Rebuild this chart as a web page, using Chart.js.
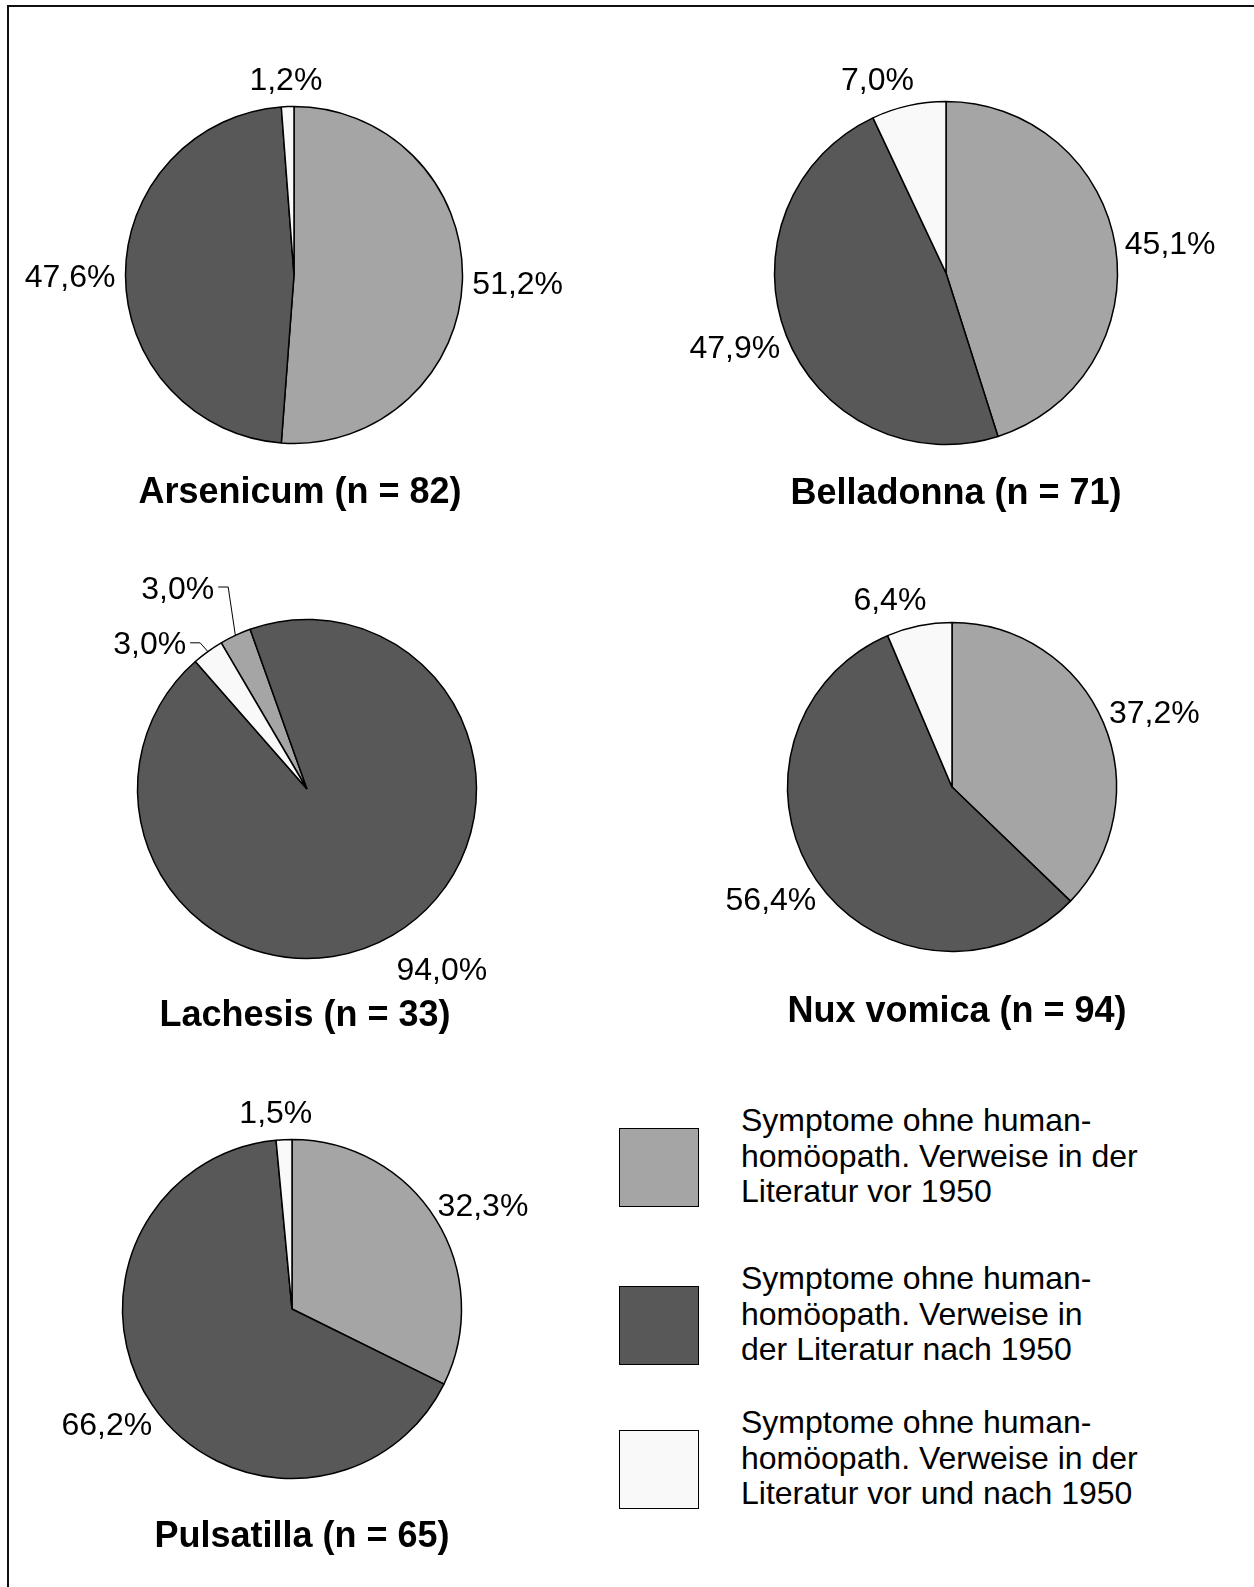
<!DOCTYPE html>
<html>
<head>
<meta charset="utf-8">
<script src="https://cdn.jsdelivr.net/npm/chart.js@4.4.1/dist/chart.umd.min.js"></script>
<style>
  html, body { margin: 0; padding: 0; background: #fff; }
  body { position: relative; width: 1254px; height: 1587px; overflow: hidden; font-family: "Liberation Sans", Arial, sans-serif; }
  #frame { position: absolute; left: 7px; top: 5px; width: 1300px; height: 1700px; border-left: 2px solid #111; border-top: 2px solid #111; }
  canvas { position: absolute; }
  .lg-box { position: absolute; left: 619px; width: 78px; height: 77px; border: 1.5px solid #000; }
  .lg-text { position: absolute; left: 741px; font-size: 32px; line-height: 35.5px; color: #000; white-space: nowrap; }
</style>
</head>
<body>
<div id="frame"></div>
<div id="legend"></div>
<script>
// categories (legend), split as in the original
const legendLines = [
  ['Symptome ohne human-', 'homöopath. Verweise in der', 'Literatur vor 1950'],
  ['Symptome ohne human-', 'homöopath. Verweise in', 'der Literatur nach 1950'],
  ['Symptome ohne human-', 'homöopath. Verweise in der', 'Literatur vor und nach 1950']
];
const categories = legendLines.map(l => l.join(' '));
const colors = ['#a5a5a5', '#585858', '#f9f9f9'];

// remedies and their shares (%)
const remedies = ['Arsenicum', 'Belladonna', 'Lachesis', 'Nux vomica', 'Pulsatilla'];
const sampleSizes = [82, 71, 33, 94, 65];
const vor1950 = [51.2, 45.1, 3.0, 37.2, 32.3];
const nach1950 = [47.6, 47.9, 94.0, 56.4, 66.2];
const vorUndNach = [1.2, 7.0, 3.0, 6.4, 1.5];

// where each pie sits on the page; nudge = hand-moved labels
const placement = [
  { cx: 294, cy: 275, r: 168.5, rot: 0, tdx: 6, ty: 503 },
  { cx: 946, cy: 273, r: 171.5, rot: 0, tdx: 10, ty: 504, nudge: [null, null, { dx: -21, dy: 0 }] },
  { cx: 307, cy: 789, r: 169.5, rot: -30.4, tdx: -2, ty: 1026,
    nudge: [{ dx: -38, dy: -23, leader: true }, { dx: 21, dy: 3 }, { dx: -31, dy: 14, leader: true }] },
  { cx: 952, cy: 787, r: 164.5, rot: 0, tdx: 5, ty: 1022, nudge: [null, null, { dx: -20, dy: 0 }] },
  { cx: 292, cy: 1309, r: 169.5, rot: 0, tdx: 10, ty: 1547, nudge: [null, null, { dx: -6, dy: 0 }] }
];

const SIZE = 600;
const HALF = SIZE / 2;
const BW = 1.5;

const fmt = v => v.toFixed(1).replace('.', ',') + '%';

const pieLabels = {
  id: 'pieLabels',
  afterDraw(chart, args, opts) {
    const ctx = chart.ctx;
    const meta = chart.getDatasetMeta(0);
    const values = chart.data.datasets[0].data;
    ctx.save();
    ctx.fillStyle = '#000';
    ctx.strokeStyle = '#000';
    ctx.lineWidth = 1;
    ctx.font = '32px "Liberation Sans", Arial, sans-serif';
    ctx.textAlign = 'center';
    ctx.textBaseline = 'alphabetic';
    meta.data.forEach((arc, i) => {
      const mid = (arc.startAngle + arc.endAngle) / 2;
      const ux = Math.cos(mid), uy = Math.sin(mid);
      const text = fmt(values[i]);
      const w = ctx.measureText(text).width;
      const d = arc.outerRadius + 8;
      let x = arc.x + d * ux + (w / 2 + 2) * ux;
      let y = arc.y + d * uy + (20 + 8 * Math.max(uy, 0)) * uy;
      const nudge = opts.nudge && opts.nudge[i];
      if (nudge) {
        x += nudge.dx;
        y += nudge.dy;
        if (nudge.leader) {
          const sx = x + w / 2 + 4;
          ctx.beginPath();
          ctx.moveTo(sx, y);
          ctx.lineTo(sx + 10, y);
          ctx.lineTo(arc.x + arc.outerRadius * ux, arc.y + arc.outerRadius * uy);
          ctx.stroke();
        }
      }
      ctx.fillText(text, x, y + 11.5);
    });
    // title under the pie
    ctx.font = 'bold 36px "Liberation Sans", Arial, sans-serif';
    ctx.fillText(opts.title, HALF + opts.tdx, opts.ty);
    ctx.restore();
  }
};

remedies.forEach((name, k) => {
  const p = placement[k];
  const canvas = document.createElement('canvas');
  canvas.width = SIZE;
  canvas.height = SIZE;
  canvas.style.width = SIZE + 'px';
  canvas.style.height = SIZE + 'px';
  canvas.style.left = (p.cx - HALF) + 'px';
  canvas.style.top = (p.cy - HALF) + 'px';
  document.body.appendChild(canvas);
  const pad = HALF - p.r - BW / 2;
  new Chart(canvas.getContext('2d'), {
    type: 'pie',
    data: {
      labels: categories,
      datasets: [{
        data: [vor1950[k], nach1950[k], vorUndNach[k]],
        backgroundColor: colors,
        borderColor: '#000',
        borderWidth: BW,
        hoverBorderWidth: BW,
        hoverOffset: 0
      }]
    },
    options: {
      responsive: false,
      devicePixelRatio: 1,
      animation: false,
      events: [],
      rotation: p.rot,
      layout: { padding: { left: pad, right: pad, top: pad, bottom: pad } },
      plugins: {
        legend: { display: false },
        tooltip: { enabled: false },
        pieLabels: {
          title: name + ' (n = ' + sampleSizes[k] + ')',
          tdx: p.tdx,
          ty: p.ty - p.cy + HALF,
          nudge: p.nudge
        }
      }
    },
    plugins: [pieLabels]
  });
});

// legend
const legend = document.getElementById('legend');
const boxTops = [1128, 1286, 1430];
const textTops = [1103, 1261, 1405];
legendLines.forEach((lines, i) => {
  const box = document.createElement('div');
  box.className = 'lg-box';
  box.style.top = boxTops[i] + 'px';
  box.style.background = colors[i];
  legend.appendChild(box);
  const txt = document.createElement('div');
  txt.className = 'lg-text';
  txt.style.top = textTops[i] + 'px';
  txt.innerHTML = lines.join('<br>');
  legend.appendChild(txt);
});
</script>
</body>
</html>
